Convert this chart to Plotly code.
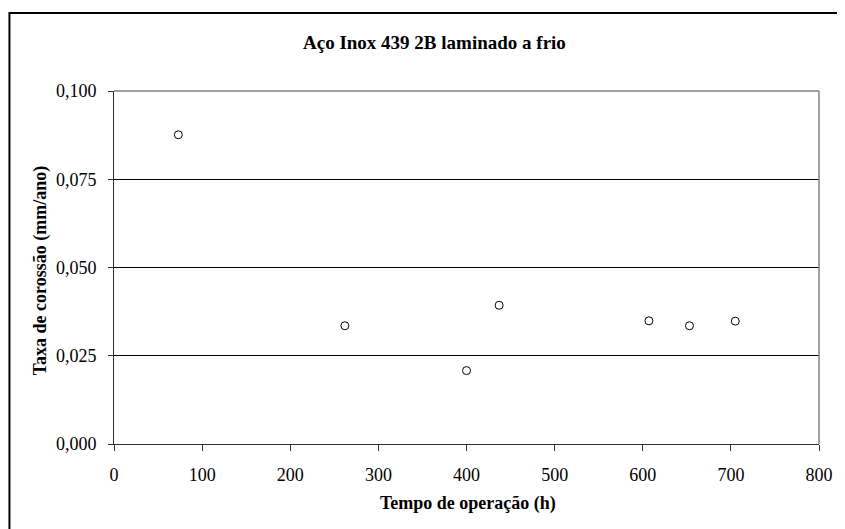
import plotly.graph_objects as go

tempo_h = [73, 262, 400, 437, 607, 653, 705]
taxa_mm_ano = [0.0876, 0.0335, 0.0208, 0.0393, 0.0349, 0.0335, 0.0348]

x_ticks = [0, 100, 200, 300, 400, 500, 600, 700, 800]
y_ticks = [0.0, 0.025, 0.05, 0.075, 0.1]

titulo = "Aço Inox 439 2B laminado a frio"
titulo_x = "Tempo de operação (h)"
titulo_y = "Taxa de corossão (mm/ano)"

OFF = 8  # page body margin
W, H = 845 - OFF, 529 - OFF
L, R, T, B = 114 - OFF, 23, 91 - OFF, 85
pw, ph = W - L - R, H - T - B

FONT = "'Times New Roman', 'Liberation Serif', 'DejaVu Serif', serif"

fig = go.Figure()
fig.add_trace(go.Scatter(
    x=tempo_h, y=taxa_mm_ano, mode="markers",
    marker=dict(symbol="circle", size=8, color="white",
                line=dict(color="black", width=1)),
    showlegend=False, cliponaxis=False,
))

# screen pixel -> paper coordinates
def px_x(px):
    return (px - OFF - L) / pw

def px_y(py):
    return (H - B - (py - OFF)) / ph

fig.update_layout(
    width=W, height=H,
    margin=dict(l=L, r=R, t=T, b=B),
    paper_bgcolor="white", plot_bgcolor="white",
    separators=",.",
    font=dict(family=FONT, size=18, color="black"),
    xaxis=dict(range=[0, 800], tickvals=x_ticks, tickformat="d",
               showgrid=False, zeroline=False,
               showline=True, linecolor="#303030", linewidth=1,
               ticks="outside", ticklen=6, tickcolor="#303030",
               ticklabelstandoff=8,
               tickfont=dict(family=FONT, size=18, color="black")),
    yaxis=dict(range=[0, 0.1], tickvals=y_ticks, tickformat=".3f",
               showgrid=True, gridcolor="black", gridwidth=1,
               zeroline=False,
               showline=True, linecolor="#303030", linewidth=1,
               ticks="outside", ticklen=5, tickcolor="#303030",
               ticklabelstandoff=8,
               tickfont=dict(family=FONT, size=18, color="black")),
    shapes=[
        dict(type="line", xref="paper", yref="paper", x0=0, x1=1, y0=1, y1=1,
             line=dict(color="#808080", width=1.5), layer="above"),
        dict(type="line", xref="paper", yref="paper", x0=1, x1=1, y0=0, y1=1,
             line=dict(color="#808080", width=1.5), layer="above"),
        dict(type="rect", xref="paper", yref="paper",
             x0=px_x(9), x1=px_x(844),
             y0=px_y(545), y1=px_y(13),
             line=dict(color="black", width=2), fillcolor="rgba(0,0,0,0)",
             layer="above"),
    ],
    annotations=[
        dict(text="<b>" + titulo + "</b>", xref="paper", yref="paper",
             x=px_x(436), y=px_y(42),
             xanchor="center", yanchor="middle", showarrow=False,
             font=dict(family=FONT, size=19, color="black")),
        dict(text="<b>" + titulo_x + "</b>", xref="paper", yref="paper",
             x=px_x(470), y=px_y(503),
             xanchor="center", yanchor="middle", showarrow=False,
             font=dict(family=FONT, size=18, color="black")),
        dict(text="<b>" + titulo_y + "</b>", xref="paper", yref="paper",
             x=px_x(40), y=px_y(270), textangle=-90,
             xanchor="center", yanchor="middle", showarrow=False,
             font=dict(family=FONT, size=18, color="black")),
    ],
)

fig.write_html("out.html")
